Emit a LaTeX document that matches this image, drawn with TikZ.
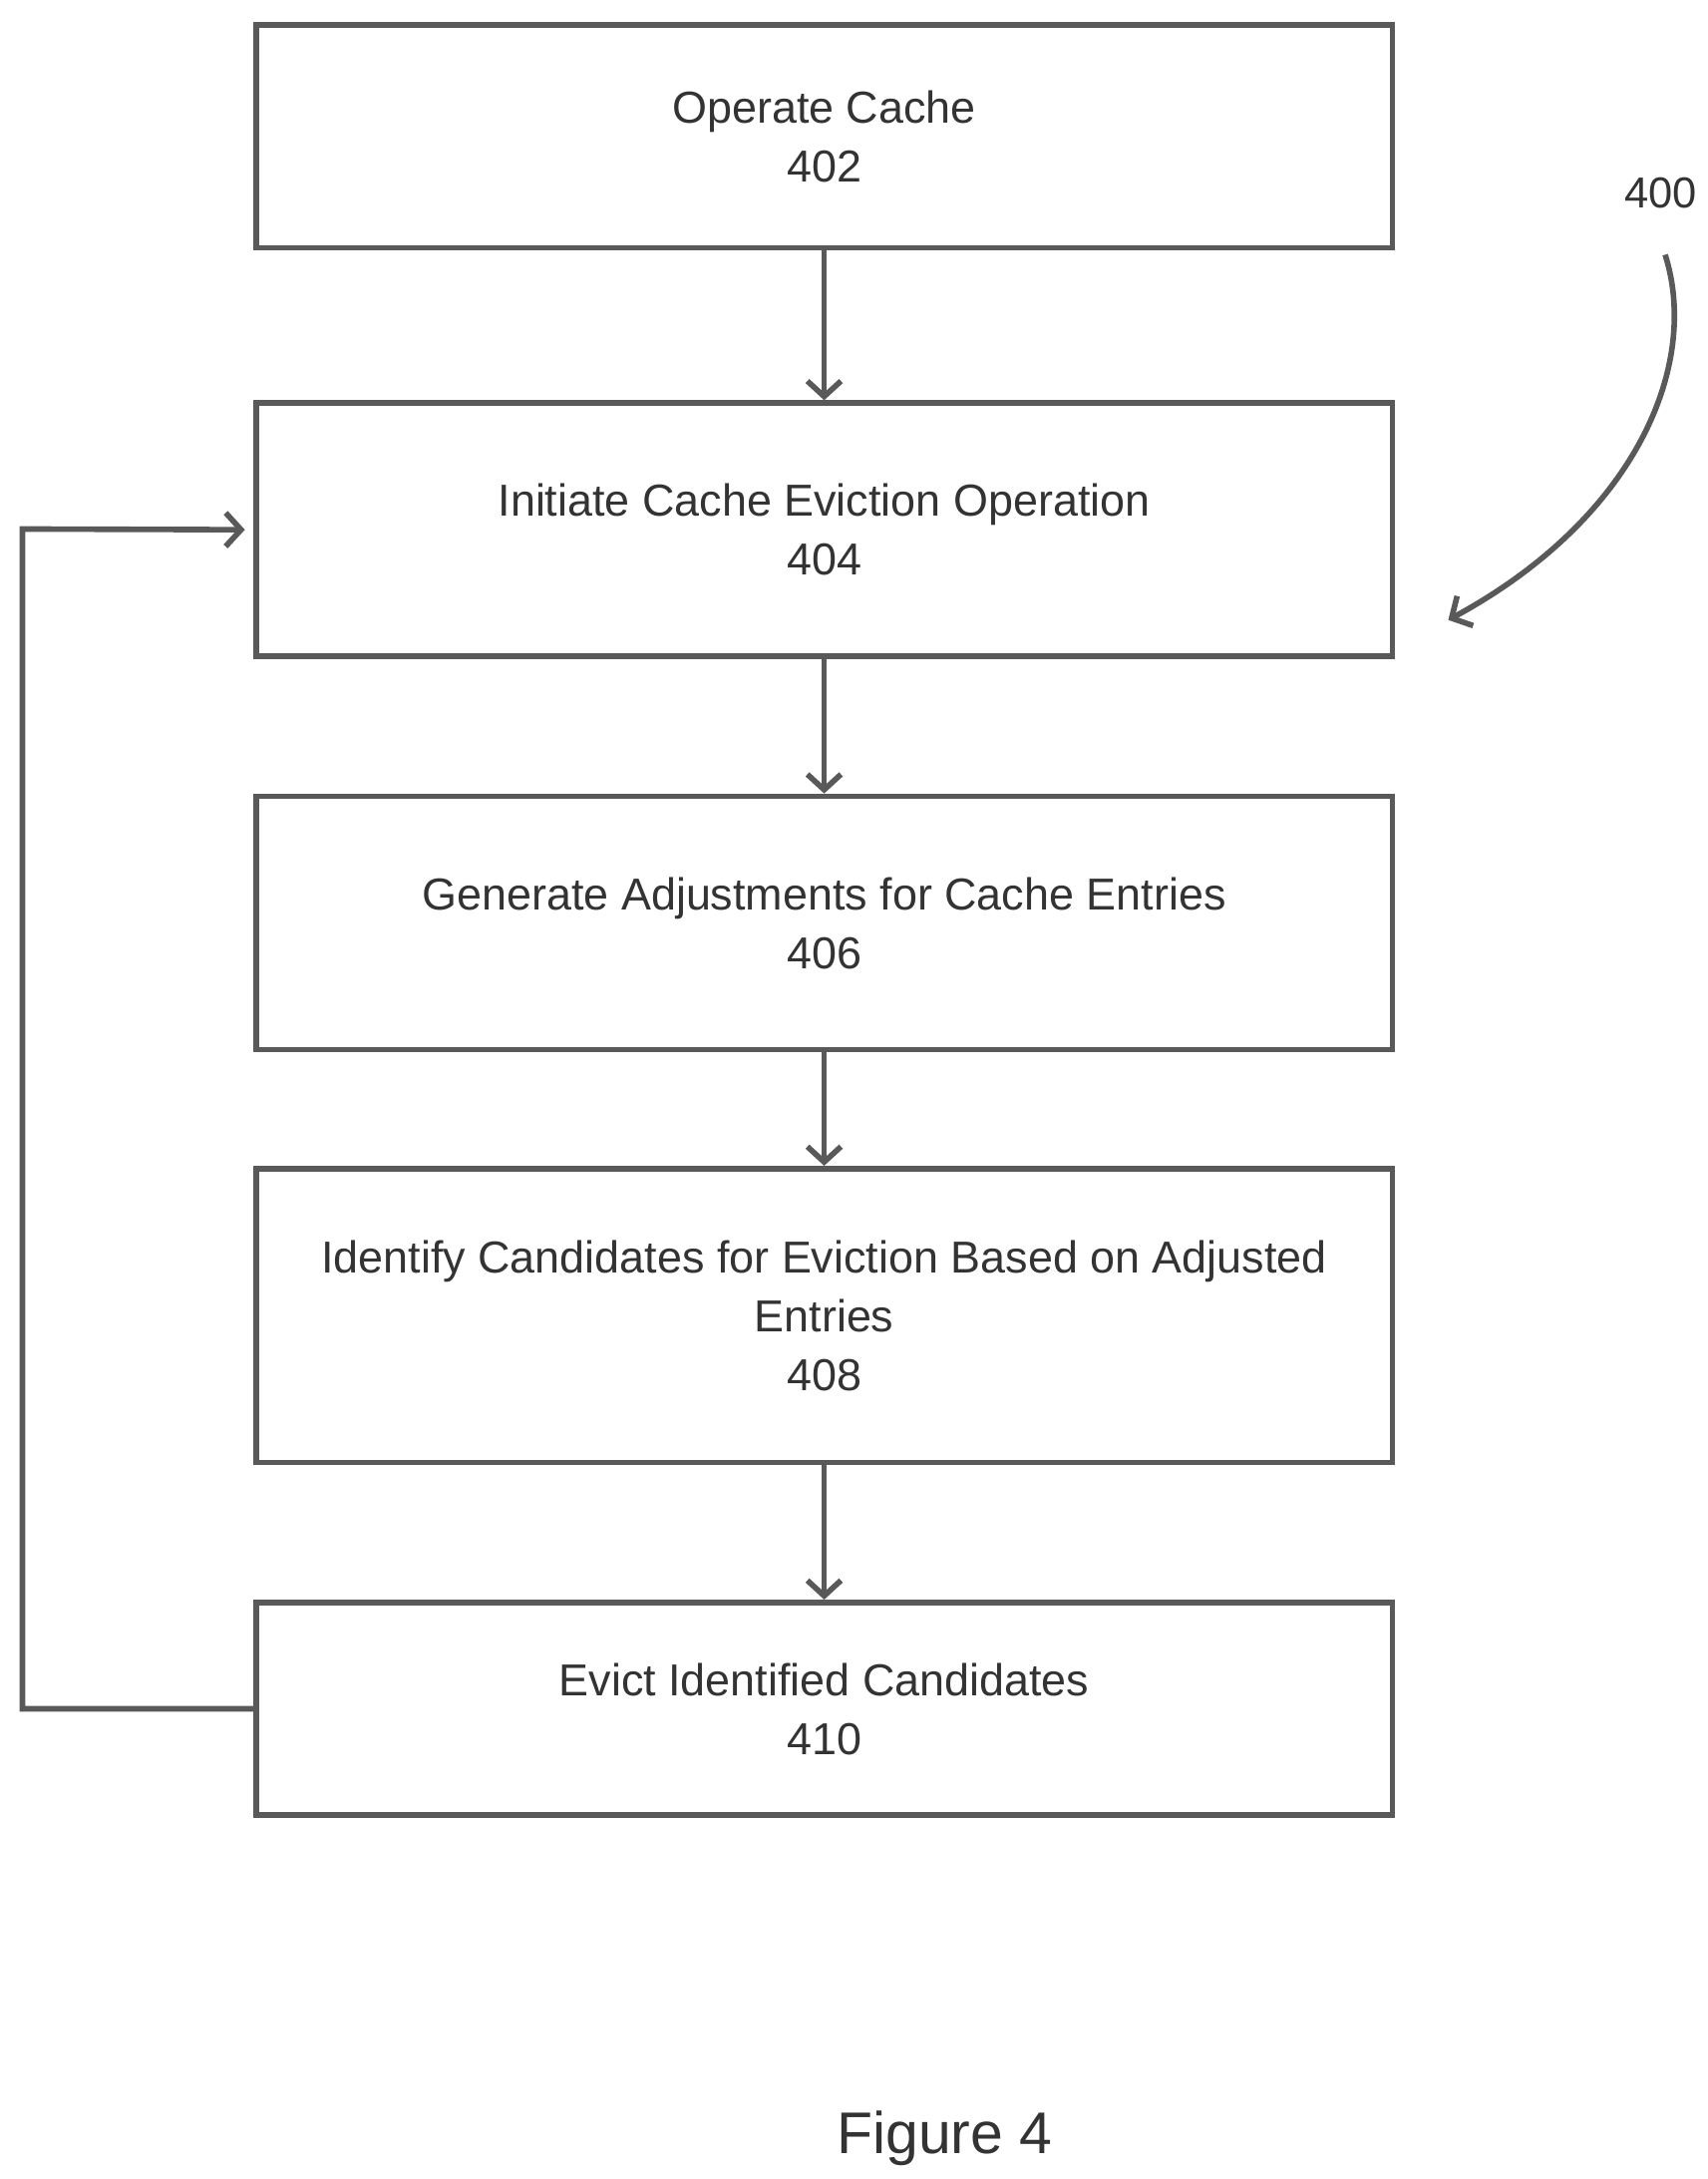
\documentclass[tikz,border=0pt]{standalone}
\usepackage{fontspec}
\setmainfont{Liberation Sans}
\usetikzlibrary{arrows.meta}
\begin{document}
\begin{tikzpicture}[x=1pt,y=-1pt,
  box/.style={draw=black!65,line width=4pt,minimum width=812pt,align=center,font=\fontsize{32}{42}\selectfont,text=black!80},
  arr/.style={draw=black!65,line width=4pt,-{Straight Barb[length=11pt,width=24pt,line width=4pt]}}]
\useasboundingbox (0,0) rectangle (1220,1557);
\node[box,minimum height=159pt] (b1) at (589,97.5) {Operate Cache\\402};
\node[box,minimum height=181pt] (b2) at (589,378.5) {Initiate Cache Eviction Operation\\404};
\node[box,minimum height=181pt] (b3) at (589,659.5) {Generate Adjustments for Cache Entries\\406};
\node[box,minimum height=210pt] (b4) at (589,940) {Identify Candidates for Eviction Based on Adjusted\\Entries\\408};
\node[box,minimum height=152pt] (b5) at (589,1221) {Evict Identified Candidates\\410};
\draw[arr] (b1) -- (b2);
\draw[arr] (b2) -- (b3);
\draw[arr] (b3) -- (b4);
\draw[arr] (b4) -- (b5);
\coordinate (c1) at (16,1221);
\coordinate (c2) at (16,378);
\draw[arr] (b5.west) -- (c1) -- (c2) -- ([xshift=-6pt]b2.west);
\node[font=\fontsize{31}{34}\selectfont,text=black!80] (n400) at (1187,138) {400};
\coordinate (t) at (1035,443);
\draw[arr] (1190,182) .. controls (1215,260) and (1170,370) .. (t);
\node[font=\fontsize{42}{48}\selectfont,text=black!80] (fig) at (675,1528) {Figure 4};
\end{tikzpicture}
\end{document}
